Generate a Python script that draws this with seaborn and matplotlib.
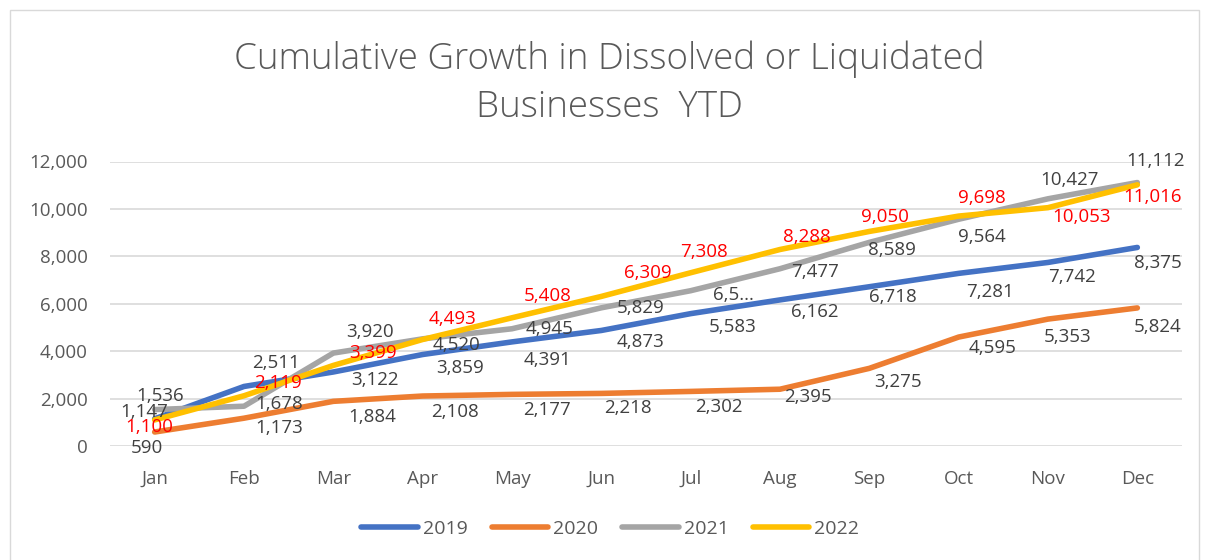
import matplotlib
matplotlib.use("Agg")
import matplotlib.pyplot as plt
from matplotlib.lines import Line2D
from matplotlib.patches import Rectangle
import seaborn as sns
import pandas as pd

# ---- data ----
months = ["Jan", "Feb", "Mar", "Apr", "May", "Jun", "Jul", "Aug", "Sep", "Oct", "Nov", "Dec"]
years = ["2019", "2020", "2021", "2022"]
v2019 = [1147, 2511, 3122, 3859, 4391, 4873, 5583, 6162, 6718, 7281, 7742, 8375]
v2020 = [590, 1173, 1884, 2108, 2177, 2218, 2302, 2395, 3275, 4595, 5353, 5824]
v2021 = [1536, 1678, 3920, 4520, 4945, 5829, 6550, 7477, 8589, 9564, 10427, 11112]
v2022 = [1100, 2119, 3399, 4493, 5408, 6309, 7308, 8288, 9050, 9698, 10053, 11016]
title = "Cumulative Growth in Dissolved or Liquidated\nBusinesses  YTD"
label_override = {("2021", 6): "6,5..."}  # truncated label in the original

colors = {"2019": "#4472C4", "2020": "#ED7D31", "2021": "#A5A5A5", "2022": "#FFC000"}
label_colors = {"2019": "#404040", "2020": "#404040", "2021": "#404040", "2022": "#FF0000"}

# data-label offsets in pixels (dx right, dy down)
offsets = {
    "2019": [(-10, -7), (32, -23), (42, 8), (37, 13), (36, 18), (39, 12), (42, 13), (35, 12), (24, 10), (31, 19), (24, 15), (21, 16)],
    "2020": [(-8, 16), (35, 10), (39, 16), (32, 16), (35, 16), (27, 15), (28, 16), (28, 8), (29, 14), (34, 11), (20, 18), (20, 19)],
    "2021": [(5, -14), (35, -2), (37, -21), (34, 6), (38, 0), (39, 0), (43, 4), (35, 3), (23, 8), (23, 18), (22, -19), (18, -22)],
    "2022": [(-5, 7), (34, -13), (40, -12), (30, -20), (36, -22), (46, -23), (13, -21), (27, -13), (16, -14), (23, -18), (34, 9), (15, 12)],
}

series = {"2019": v2019, "2020": v2020, "2021": v2021, "2022": v2022}
rows = []
for y in years:
    for i, v in enumerate(series[y]):
        rows.append({"month": i, "value": v, "year": y})
df = pd.DataFrame(rows)

sns.set_theme(style="white")
plt.rcParams["font.family"] = ["Open Sans", "DejaVu Sans"]

W, H = 1206, 560
fig = plt.figure(figsize=(W / 100, H / 100), dpi=100)
fig.patch.set_facecolor("white")

ax = fig.add_axes([110 / W, 114 / H, 1072 / W, 284.5 / H])
sns.lineplot(data=df, x="month", y="value", hue="year", palette=colors,
             linewidth=4, ax=ax, legend=False, sort=False)
for line in ax.get_lines():
    line.set_solid_capstyle("round")
    line.set_solid_joinstyle("round")

ax.set_xlim(-0.5, 11.5)
ax.set_ylim(0, 12000)
ax.set_yticks(range(0, 12001, 2000))
ax.set_yticklabels([f"{t:,}" for t in range(0, 12001, 2000)])
ax.set_xticks(range(len(months)))
ax.set_xticklabels(months)
ax.tick_params(axis="both", length=0, labelsize=13.5, colors="#595959")
ax.tick_params(axis="y", pad=16)
ax.tick_params(axis="x", pad=17)
ax.set_xlabel("")
ax.set_ylabel("")
ax.grid(axis="y", color="#D9D9D9", linewidth=1.2)
ax.set_axisbelow(True)
for s in ax.spines.values():
    s.set_visible(False)

# data labels
for y in years:
    for i, v in enumerate(series[y]):
        txt = label_override.get((y, i), f"{v:,}")
        dx, dy = offsets[y][i]
        ax.annotate(txt, (i, v), xytext=(dx * 0.72, -dy * 0.72), textcoords="offset points",
                    ha="center", va="center", fontsize=13.5, color=label_colors[y], zorder=5)

# title
fig.text(0.505, 1 - 83 / H, title, ha="center", va="center", fontsize=26.5,
         color="#595959", linespacing=1.38, fontweight="light")

# legend
handles = [Line2D([0], [0], color=colors[y], lw=4, solid_capstyle="round") for y in years]
fig.legend(handles, years, loc="center", bbox_to_anchor=(0.506, 1 - 529 / H), ncol=4,
           frameon=False, fontsize=14, handlelength=2.9, handletextpad=0.25,
           columnspacing=1.25, labelcolor="#595959")

# chart border
fig.add_artist(Rectangle((10 / W, -0.05), (1199 - 10) / W, 1.05 - 10 / H,
                         transform=fig.transFigure, fill=False, edgecolor="#D9D9D9", linewidth=1))

fig.savefig("out.png", dpi=100, facecolor="white")
